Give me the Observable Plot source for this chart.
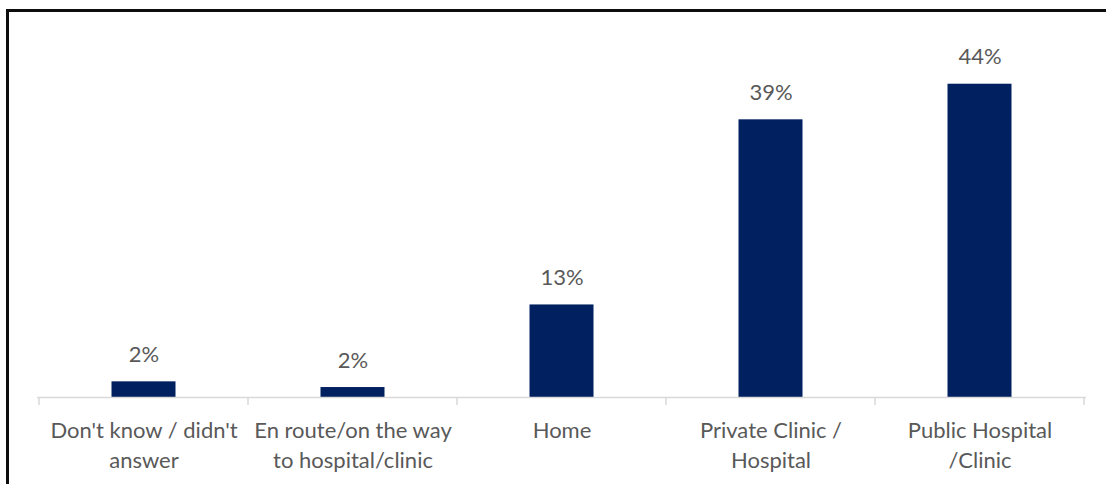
<!DOCTYPE html>
<html>
<head>
<meta charset="utf-8">
<script src="https://cdn.jsdelivr.net/npm/d3@7"></script>
<script src="https://cdn.jsdelivr.net/npm/@observablehq/plot@0.6"></script>
<style>
  html, body { margin: 0; padding: 0; background: #fff; overflow: hidden; width: 1106px; height: 484px; }
  #wrap { position: relative; width: 1106px; height: 484px; }
  #frame { position: absolute; left: 6px; top: 9px; width: 1120px; height: 500px; border: 3px solid #0d0d0d; box-sizing: border-box; pointer-events: none; }
  svg { position: absolute; left: 0; top: 0; }
</style>
</head>
<body>
<div id="wrap"><div id="chart"></div><div id="frame"></div></div>
<script>
const categories = ["Don't know / didn't answer", "En route/on the way to hospital/clinic", "Home", "Private Clinic / Hospital", "Public Hospital /Clinic"];
const tickLabels = ["Don't know / didn't\nanswer", "En route/on the way\nto hospital/clinic", "Home", "Private Clinic /\nHospital", "Public Hospital\n/Clinic"];
const values = [2.2, 1.4, 13, 39, 44];
const valueLabels = ["2%", "2%", "13%", "39%", "44%"];

const data = categories.map((c, i) => ({category: c, value: values[i], label: valueLabels[i]}));
const labelOf = new Map(categories.map((c, i) => [c, tickLabels[i]]));

const gray = "#595959";
const font = "Lato, 'Open Sans', sans-serif";

function boundaryTicks(index, scales, values, dims) {
  const x = scales.x;
  const ns = "http://www.w3.org/2000/svg";
  const g = document.createElementNS(ns, "g");
  const y0 = scales.y(0);
  const starts = categories.map(c => x(c));
  const step = starts.length > 1 ? starts[1] - starts[0] : (dims.width - dims.marginLeft - dims.marginRight);
  const xs = [...starts, starts[starts.length - 1] + step];
  for (const px of xs) {
    const l = document.createElementNS(ns, "line");
    l.setAttribute("x1", px); l.setAttribute("x2", px);
    l.setAttribute("y1", y0); l.setAttribute("y2", y0 + 8);
    l.setAttribute("stroke", "#d9d9d9");
    l.setAttribute("stroke-width", 1.5);
    g.appendChild(l);
  }
  return g;
}

const chart = Plot.plot({
  width: 1106,
  height: 484,
  marginLeft: 37,
  marginRight: 20,
  marginTop: 41,
  marginBottom: 87,
  style: {fontFamily: font, background: "transparent"},
  x: {domain: categories, padding: 0, label: null},
  y: {domain: [0, 50], axis: null},
  marks: [
    Plot.barY(data, {x: "category", y: "value", fill: "#002060", insetLeft: 72.5, insetRight: 72.5}),
    Plot.ruleY([0], {stroke: "#d9d9d9", strokeWidth: 1.5}),
    boundaryTicks,
    Plot.text(data, {x: "category", y: "value", text: "label", dy: -27, lineAnchor: "middle", fill: gray, fontSize: 22}),
    Plot.axisX({tickSize: 0, tickPadding: 19, tickFormat: d => labelOf.get(d), fontSize: 22, lineHeight: 1.36, fill: gray, label: null})
  ]
});
document.getElementById("chart").appendChild(chart);
</script>
</body>
</html>
